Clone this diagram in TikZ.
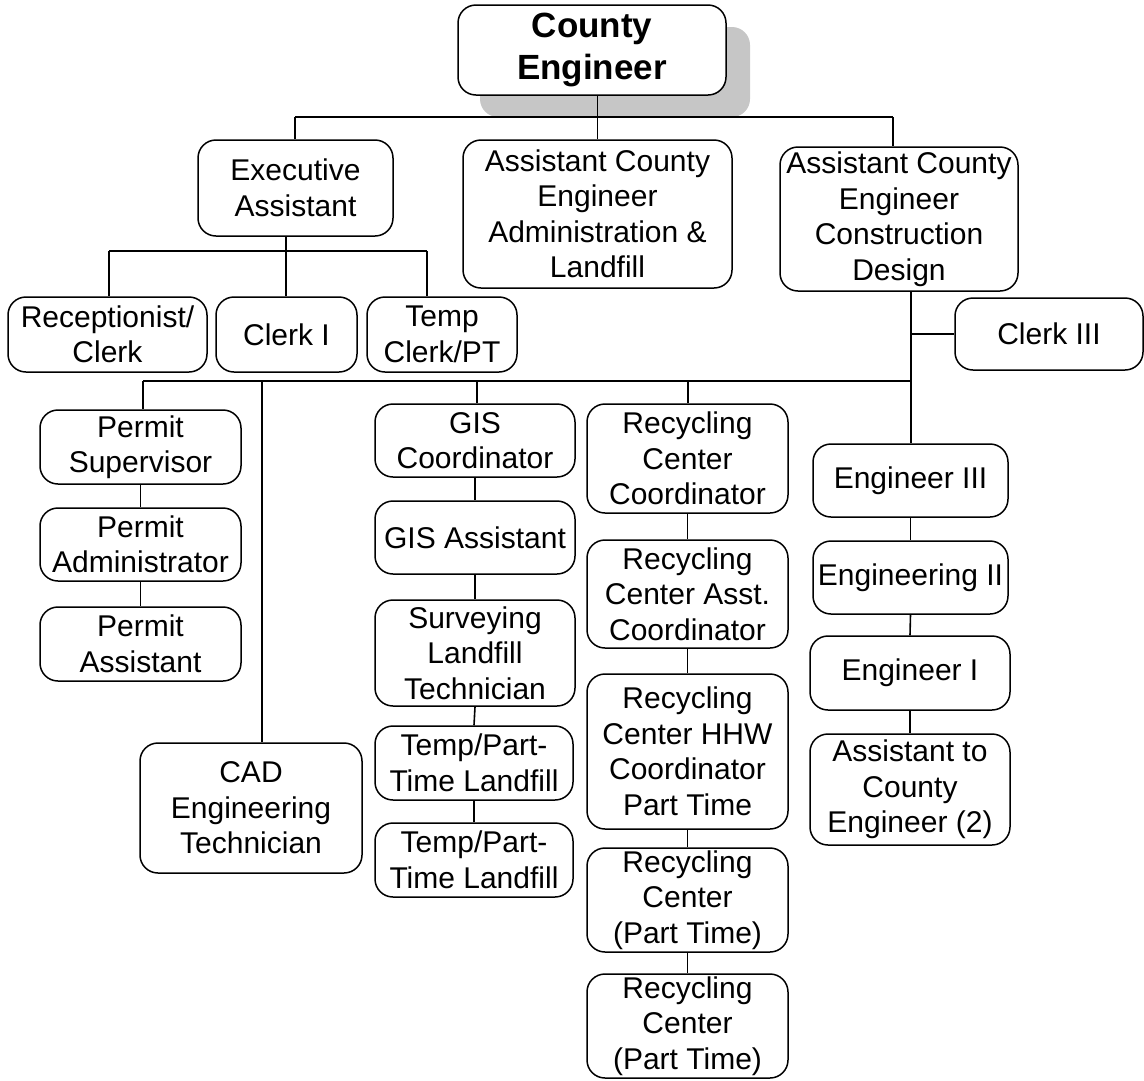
\documentclass[tikz,border=0pt]{standalone}
\usepackage{fontspec}
\setmainfont{Liberation Sans}
\begin{document}
\begin{tikzpicture}[x=1pt,y=-1pt,
  box/.style={draw=black, fill=white, line width=1.5pt, rounded corners=18pt,
    align=center, inner sep=0pt, font=\fontsize{30}{35.5}\selectfont},
  conn/.style={draw=black, line width=1.6pt}]
\newcommand\bx[7][]{\node[box,#1, minimum width={(#5)*1pt-(#3)*1pt}, minimum height={(#6)*1pt-(#4)*1pt}]
  (#2) at ({(#3+#5)/2},{(#4+#6)/2}) {#7};}
\useasboundingbox (0,0) rectangle (1144,1080);
% shadow of top box
\fill[gray!45, rounded corners=18pt] (480,27) rectangle (750,117);
% bus coordinates
\coordinate (busL) at (295,117);
\coordinate (busR) at (893,117);
\coordinate (eaX) at (286,0);
\coordinate (b2L) at (109,251);
\coordinate (b2R) at (427,251);
\coordinate (b3L) at (143,381);
\coordinate (cadX) at (262,0);
\coordinate (gisX) at (477,0);
\coordinate (recX) at (688,0);
\coordinate (engX) at (911,0);
% boxes
\bx{ce}{458}{5}{726}{95}{}
\bx{ea}{198}{140}{393}{236}{Executive\\Assistant}
\bx{acea}{463}{140}{732}{288}{Assistant County\\Engineer\\Administration \&\\Landfill}
\bx{acec}{780}{147}{1018}{291}{Assistant County\\Engineer\\Construction\\Design}
\bx{rc}{8}{297}{207}{372}{Receptionist/\\Clerk}
\bx{c1}{216}{297}{357}{372}{Clerk I}
\bx{tc}{367}{297}{517}{372}{Temp\\Clerk/PT}
\bx{c3}{955}{298}{1143}{370}{Clerk III}
\bx{ps}{40}{410}{241}{484}{Permit\\Supervisor}
\bx{pad}{40}{508}{241}{581}{Permit\\Administrator}
\bx{pas}{40}{607}{241}{681}{Permit\\Assistant}
\bx{cad}{140}{743}{362}{873}{CAD\\Engineering\\Technician}
\bx{gc}{375}{404}{575}{477}{GIS\\Coordinator}
\bx{ga}{375}{501}{575}{574}{GIS Assistant}
\bx{slt}{375}{600}{575}{706}{Surveying\\Landfill\\Technician}
\bx{tp1}{375}{726}{573}{800}{Temp/Part-\\Time Landfill}
\bx{tp2}{375}{823}{573}{897}{Temp/Part-\\Time Landfill}
\bx{r1}{587}{404}{788}{513}{Recycling\\Center\\Coordinator}
\bx{r2}{587}{540}{788}{648}{Recycling\\Center Asst.\\Coordinator}
\bx{r3}{587}{674}{788}{829}{Recycling\\Center HHW\\Coordinator\\Part Time}
\bx{r4}{587}{848}{788}{952}{Recycling\\Center\\(Part Time)}
\bx{r5}{587}{974}{788}{1078}{Recycling\\Center\\(Part Time)}
\bx{e3}{813}{444}{1008}{517}{Engineer III}
\bx{e2}{813}{541}{1008}{614}{Engineering II}
\bx{e1}{810}{636}{1010}{710}{Engineer I}
\bx{ae}{810}{734}{1010}{845}{Assistant to\\County\\Engineer (2)}
\node[font=\bfseries\fontsize{35}{42}\selectfont, align=center] (cet) at (ce) {County\\Engineer};
% connectors
\draw[conn] (ce.south -| acea.north) -- (acea.north);
\draw[conn] (busL) -- (busR);
\draw[conn] (busL) -- (busL |- ea.north);
\draw[conn] (busR) -- (busR |- acec.north);
\draw[conn] (ea.south -| eaX) -- (eaX |- c1.north);
\draw[conn] (b2L) -- (b2R);
\draw[conn] (b2L) -- (b2L |- rc.north);
\draw[conn] (b2R) -- (b2R |- tc.north);
\draw[conn] (acec.south -| engX) -- (engX |- e3.north);
\draw[conn] (engX |- c3.west) -- (c3.west);
\draw[conn] (b3L) -- (engX |- b3L);
\draw[conn] (b3L) -- (b3L |- ps.north);
\draw[conn] (cadX |- b3L) -- (cadX |- cad.north);
\draw[conn] (gisX |- b3L) -- (gisX |- gc.north);
\draw[conn] (recX |- b3L) -- (recX |- r1.north);
\draw[conn] (ps.south) -- (pad.north);
\draw[conn] (pad.south) -- (pas.north);
\draw[conn] (gc.south) -- (ga.north);
\draw[conn] (ga.south) -- (slt.north);
\draw[conn] (slt.south) -- (tp1.north);
\draw[conn] (tp1.south) -- (tp2.north);
\draw[conn] (r1.south) -- (r2.north);
\draw[conn] (r2.south) -- (r3.north);
\draw[conn] (r3.south) -- (r4.north);
\draw[conn] (r4.south) -- (r5.north);
\draw[conn] (e3.south) -- (e2.north);
\draw[conn] (e2.south) -- (e1.north);
\draw[conn] (e1.south) -- (ae.north);
\end{tikzpicture}
\end{document}
